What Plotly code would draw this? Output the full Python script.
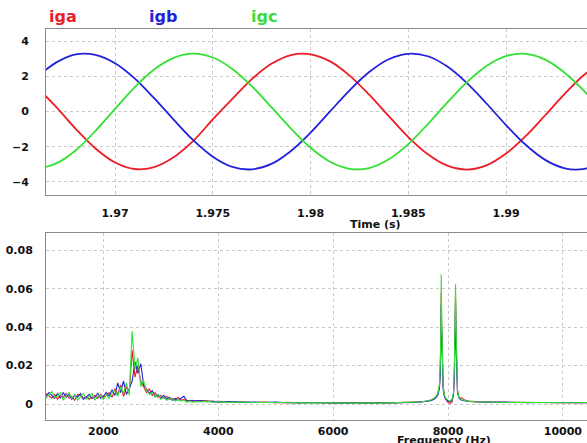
import plotly.graph_objects as go

# ---------------- time-domain data ----------------
time_s = [1.966, 1.967, 1.968, 1.969, 1.970, 1.971, 1.972, 1.973, 1.974, 1.975,
          1.976, 1.977, 1.978, 1.979, 1.980, 1.981, 1.982, 1.983, 1.984, 1.985,
          1.986, 1.987, 1.988, 1.989, 1.990, 1.991, 1.992, 1.993, 1.994, 1.995]
iga = [1.40, 0.25, -1.00, -2.10, -2.90, -3.27, -3.16, -2.60, -1.67, -0.45,
       0.72, 1.85, 2.72, 3.22, 3.26, 2.86, 2.05, 0.96, -0.26, -1.45,
       -2.43, -3.08, -3.30, -3.06, -2.39, -1.40, -0.21, 1.01, 2.10, 2.88]
igb = [1.95, 2.80, 3.26, 3.23, 2.75, 1.89, 0.76, -0.46, -1.63, -2.57,
       -3.15, -3.29, -2.98, -2.24, -1.20, 0.01, 1.21, 2.25, 2.98, 3.29,
       3.15, 2.56, 1.62, 0.46, -0.77, -1.89, -2.75, -3.23, -3.26, -2.83]
igc = [-3.27, -2.95, -2.20, -1.10, 0.15, 1.38, 2.40, 3.06, 3.30, 3.08,
       2.43, 1.44, 0.25, -0.97, -2.06, -2.86, -3.26, -3.22, -2.72, -1.85,
       -0.71, 0.52, 1.68, 2.60, 3.16, 3.29, 2.96, 2.21, 1.16, -0.05]

# ---------------- spectrum data ----------------
freq_hz = [1000, 1050, 1100, 1150, 1200, 1250, 1300, 1350, 1400, 1450,
           1500, 1550, 1600, 1650, 1700, 1750, 1800, 1850, 1900, 1950,
           2000, 2050, 2100, 2150, 2200, 2250, 2300, 2350, 2400, 2450,
           2500, 2550, 2600, 2650, 2700, 2750, 2800, 2850, 2900, 2950,
           3000, 3050, 3100, 3150, 3200, 3250, 3300, 3350, 3400, 3450,
           3500, 3550, 3600,
           3700, 3800, 3900, 4000, 4200, 4400, 4600, 4800, 5000, 5200,
           5400, 5600, 5800, 6000, 6200, 6400, 6600, 6800, 7000, 7200,
           7400, 7550, 7650, 7720, 7780, 7820, 7850, 7865, 7875, 7882,
           7890, 7900, 7915, 7935, 7960, 8000, 8040, 8070, 8095, 8110,
           8120, 8131, 8140, 8150, 8165, 8185, 8210, 8240, 8280, 8350,
           8450, 8600, 8800, 9000, 9200, 9400, 9600, 9800, 10000, 10200,
           10420]
# amplitudes in units of 1e-3
spec_a = [5.5, 4.0, 3.0, 5.0, 2.5, 4.5, 3.5, 5.5, 3.0, 4.0,
          2.0, 5.0, 4.5, 3.0, 4.0, 2.5, 3.5, 4.5, 3.0, 5.0,
          3.5, 4.5, 6.0, 3.5, 8.0, 5.0, 10.0, 4.0, 9.0, 6.0,
          28.0, 14.0, 20.0, 12.0, 9.0, 6.0, 8.0, 4.5, 6.0, 3.5,
          4.5, 3.0, 4.0, 2.5, 3.0, 2.0, 3.5, 2.0, 2.5, 1.5,
          2.0, 1.5, 1.8,
          1.5, 1.8, 1.2, 1.4, 1.0, 1.2, 0.8, 1.0, 0.7, 0.9,
          0.6, 0.8, 0.6, 0.5, 0.6, 0.5, 0.6, 0.5, 0.6, 0.7,
          0.9, 1.2, 1.6, 2.2, 3.2, 5.0, 9.0, 18.0, 35.0, 58.0,
          40.0, 20.0, 9.0, 4.5, 2.5, 0.8, 0.3, 1.0, 5.0, 15.0,
          32.0, 57.0, 35.0, 16.0, 7.0, 4.0, 3.0, 3.2, 2.2, 1.6,
          1.3, 1.1, 1.0, 0.9, 0.8, 0.9, 0.7, 0.8, 0.7, 0.8,
          0.7]
spec_b = [4.0, 6.0, 4.5, 3.0, 5.5, 3.0, 6.0, 3.5, 5.0, 2.5,
          4.5, 3.5, 5.5, 2.5, 3.5, 5.0, 3.0, 3.5, 5.5, 3.0,
          4.0, 6.0, 4.0, 7.5, 4.5, 11.0, 6.0, 12.0, 5.0, 8.0,
          12.0, 22.0, 16.0, 21.0, 10.0, 8.0, 5.5, 7.0, 4.0, 5.0,
          3.0, 4.5, 2.5, 3.5, 2.0, 3.0, 2.0, 3.0, 4.0, 2.0,
          1.5, 2.0, 1.5,
          1.8, 1.2, 1.5, 1.0, 1.3, 0.9, 1.1, 0.8, 1.0, 0.7,
          0.8, 0.6, 0.7, 0.6, 0.5, 0.6, 0.5, 0.6, 0.5, 0.7,
          0.8, 1.1, 1.5, 2.0, 3.0, 4.6, 8.0, 15.0, 30.0, 52.0,
          36.0, 18.0, 8.0, 4.2, 2.6, 1.5, 1.2, 2.0, 5.0, 14.0,
          30.0, 53.0, 32.0, 15.0, 6.5, 3.5, 2.5, 2.0, 1.7, 1.4,
          1.2, 1.0, 0.9, 1.0, 0.8, 0.7, 0.8, 0.7, 0.8, 0.7,
          0.7]
spec_c = [3.0, 5.0, 6.5, 3.5, 4.0, 6.0, 2.0, 4.0, 6.0, 3.0,
          5.0, 2.0, 3.5, 5.5, 2.5, 4.0, 5.5, 2.0, 4.0, 4.5,
          2.5, 5.0, 3.0, 6.0, 7.0, 4.0, 9.0, 5.5, 11.0, 4.5,
          38.0, 18.0, 24.0, 9.0, 12.0, 7.0, 5.0, 6.0, 3.5, 5.0,
          2.5, 3.5, 2.0, 3.0, 2.5, 1.5, 2.5, 1.5, 2.0, 1.0,
          1.5, 1.0, 1.2,
          1.2, 1.4, 1.0, 1.2, 0.9, 1.1, 0.8, 0.9, 0.7, 0.8,
          0.6, 0.7, 0.5, 0.6, 0.5, 0.4, 0.5, 0.5, 0.6, 0.7,
          0.9, 1.2, 1.7, 2.4, 3.6, 5.5, 10.0, 20.0, 40.0, 67.5,
          45.0, 22.0, 10.0, 5.0, 3.0, 2.0, 1.6, 2.5, 6.0, 18.0,
          38.0, 62.4, 40.0, 18.0, 7.5, 4.0, 2.8, 2.2, 1.8, 1.5,
          1.2, 1.0, 0.9, 0.8, 0.9, 0.8, 0.7, 0.8, 0.7, 0.7,
          0.8]

time_ticks = [1.97, 1.975, 1.98, 1.985, 1.99]
time_tick_text = ["1.97", "1.975", "1.98", "1.985", "1.99"]
cur_ticks = [-4, -2, 0, 2, 4]
freq_ticks = [2000, 4000, 6000, 8000, 10000]
freq_tick_text = ["2000", "4000", "6000", "8000", "10000"]
amp_ticks = [0, 0.02, 0.04, 0.06, 0.08]
amp_tick_text = ["0", "0.02", "0.04", "0.06", "0.08"]

names = ["iga", "igb", "igc"]
colors = ["#ee1c24", "#2222dd", "#33e033"]
label_colors = ["#e8202a", "#2424d4", "#3cdc3c"]

W, H = 587, 443
L = 46
def px_x(x):
    return (x - L) / (W - L)
def px_y(y):
    return 1 - y / H

fig = go.Figure()
for vals, c, n in zip([iga, igb, igc], colors, names):
    fig.add_trace(go.Scatter(x=time_s, y=vals, mode="lines", name=n,
                             line=dict(color=c, width=1.8, shape="spline"),
                             xaxis="x", yaxis="y", showlegend=False))
for vals, c, n in zip([spec_a, spec_b, spec_c], colors, names):
    fig.add_trace(go.Scatter(x=freq_hz, y=[v / 1000 for v in vals], mode="lines", name=n,
                             line=dict(color=c, width=1.1),
                             xaxis="x2", yaxis="y2", showlegend=False))

tickfont = dict(family="DejaVu Sans", size=11, color="#111111", weight="bold")
grid = dict(showgrid=True, gridcolor="#c8c8c8", griddash="dot", gridwidth=1,
            zeroline=False, showline=True, linecolor="#8a8a8a", linewidth=1,
            tickfont=tickfont, ticks="", automargin=False)

fig.update_layout(
    width=W, height=H, autosize=False,
    margin=dict(l=L, r=0, t=0, b=0, pad=0),
    paper_bgcolor="white", plot_bgcolor="white",
    font=dict(family="DejaVu Sans", size=11, color="#111111"),
    xaxis=dict(domain=[0, 1], anchor="y", range=[1.96647, 1.99414],
               tickvals=time_ticks, ticktext=time_tick_text, mirror=True,
               ticklabelstandoff=8, **grid),
    yaxis=dict(domain=[px_y(195), px_y(28.5)], anchor="x", range=[-4.75, 4.73],
               tickvals=cur_ticks, ticklabelstandoff=14, **grid),
    xaxis2=dict(domain=[0, 1], anchor="y2", range=[1000, 10420],
                tickvals=freq_ticks, ticktext=freq_tick_text, mirror=True,
                ticklabelstandoff=1, **grid),
    yaxis2=dict(domain=[px_y(420), px_y(232.5)], anchor="x2", range=[-0.0083, 0.0893],
                tickvals=amp_ticks, ticktext=amp_tick_text, ticklabelstandoff=10, **grid),
)

# series labels along the top
for n, lc, xp in zip(names, label_colors, [63, 163, 264]):
    fig.add_annotation(text="<b>%s</b>" % n, x=px_x(xp), y=px_y(16), xref="paper", yref="paper",
                       showarrow=False, xanchor="center", yanchor="middle",
                       font=dict(family="DejaVu Sans", size=16, color=lc))

fig.add_annotation(text="<b>Time (s)</b>", x=px_x(375), y=px_y(224), xref="paper", yref="paper",
                   showarrow=False, xanchor="center", yanchor="middle",
                   font=dict(family="DejaVu Sans", size=11, color="#111111"))
fig.add_annotation(text="<b>Frequency (Hz)</b>", x=px_x(444), y=px_y(440), xref="paper", yref="paper",
                   showarrow=False, xanchor="center", yanchor="middle",
                   font=dict(family="DejaVu Sans", size=11, color="#111111"))

fig.write_html("out.html", config={"displayModeBar": False},
               post_script="document.body.style.margin='0';document.body.style.overflow='hidden';")
